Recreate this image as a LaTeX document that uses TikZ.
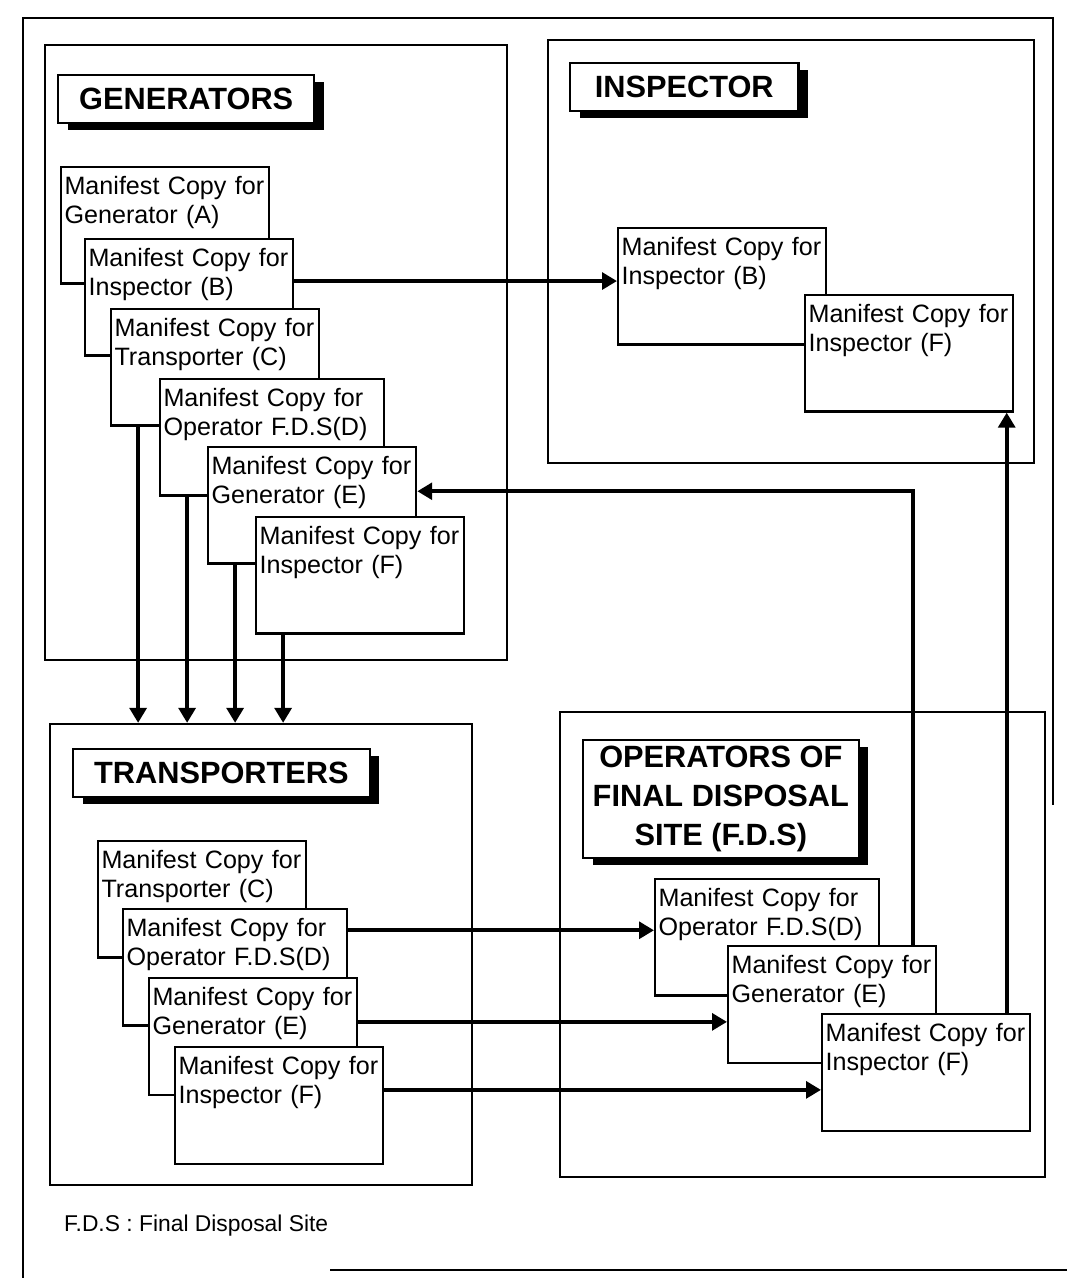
\documentclass[tikz,border=0pt]{standalone}
\usepackage{fontspec}
\setmainfont{Liberation Sans}
\usetikzlibrary{arrows.meta}
\usetikzlibrary{shadows}
\usetikzlibrary{fit}

\begin{document}
\begin{tikzpicture}[x=0.02cm, y=-0.02cm,
        panel/.style={draw, line width=1.3pt, inner sep=0pt},
        headbox/.style={draw, fill=white, line width=1.2pt, anchor=north west,
            font=\bfseries\fontsize{17.5}{22}\selectfont, inner xsep=12pt, minimum height=27.5pt,
            drop shadow={shadow xshift=5.5pt, shadow yshift=-4pt, fill=black, opacity=1}},
        card/.style={draw, fill=white, line width=1.2pt, anchor=north west, align=left,
            font=\fontsize{14.3}{16.5}\selectfont, inner xsep=2pt, inner ysep=2pt,
            text width=114.5pt, text height=13.5pt, text depth=48.8pt},
        wide/.style={card, text width=123.5pt},
        flow/.style={line width=2.3pt, -{Triangle[length=8.5pt, width=9.5pt]}}]

    \useasboundingbox (0,0) rectangle (1067,1278);

    % outer frame of the page
    \draw[line width=1.5pt] (23,1278) -- (23,18) -- (1053,18) -- (1053,805);
    \draw[line width=1.5pt] (330,1270) -- (1067,1270);

    % the four parties
    \node[panel, fit={(45,45) (507,660)}] (gen) {};
    \node[panel, fit={(548,40) (1034,463)}] (insp) {};
    \node[panel, fit={(50,724) (472,1185)}] (trans) {};
    \node[panel, fit={(560,712) (1045,1177)}] (fds) {};

    \node[headbox] (genT) at (57,74) {GENERATORS};
    \node[headbox, minimum width=130pt] (inspT) at (569,62) {INSPECTOR};
    \node[headbox] (transT) at (72,748) {TRANSPORTERS};
    \node[headbox, align=center, inner xsep=5.5pt, minimum height=67pt] (fdsT) at (582,739)
        {OPERATORS OF\\FINAL DISPOSAL\\SITE (F.D.S)};

    % copies kept by the generator
    \node[card] (gA) at (60,166) {Manifest Copy for\\Generator (A)};
    \node[card] (gB) at (84,238) {Manifest Copy for\\Inspector (B)};
    \node[card] (gC) at (110,308) {Manifest Copy for\\Transporter (C)};
    \node[wide] (gD) at (159,378) {Manifest Copy for\\Operator F.D.S(D)};
    \node[card] (gE) at (207,446) {Manifest Copy for\\Generator (E)};
    \node[card] (gF) at (255,516) {Manifest Copy for\\Inspector (F)};

    % inspector
    \node[card] (iB) at (617,227) {Manifest Copy for\\Inspector (B)};
    \node[card] (iF) at (804,294) {Manifest Copy for\\Inspector (F)};

    % transporter
    \node[card] (tC) at (97,840) {Manifest Copy for\\Transporter (C)};
    \node[wide] (tD) at (122,908) {Manifest Copy for\\Operator F.D.S(D)};
    \node[card] (tE) at (148,977) {Manifest Copy for\\Generator (E)};
    \node[card] (tF) at (174,1046) {Manifest Copy for\\Inspector (F)};

    % final disposal site
    \node[wide] (fD) at (654,878) {Manifest Copy for\\Operator F.D.S(D)};
    \node[card] (fE) at (727,945) {Manifest Copy for\\Generator (E)};
    \node[card] (fF) at (821,1013) {Manifest Copy for\\Inspector (F)};

    \node[anchor=west, font=\fontsize{13}{15}\selectfont] (note) at (58,1226) {F.D.S : Final Disposal Site};

    % copies handed on
    \coordinate (bIn) at ([yshift=3pt]iB.west);
    \draw[flow] (gB.east |- bIn) -- (bIn);
    \foreach \c in {gC,gD,gE,gF}
        \draw[flow] ([xshift=16pt]\c.south west) coordinate (down) -- (down |- trans.north);

    \coordinate (dIn) at ([yshift=4pt]fD.west);
    \coordinate (eIn) at ([yshift=-10pt]fE.west);
    \coordinate (fIn) at ([yshift=-10pt]fF.west);
    \draw[flow] (tD.east |- dIn) -- (dIn);
    \draw[flow] (tE.east |- eIn) -- (eIn);
    \draw[flow] (tF.east |- fIn) -- (fIn);

    % back to generator and inspector
    \coordinate (backE) at ([yshift=8pt]gE.east);
    \draw[flow] ([xshift=-14pt]fE.north east) |- (backE);
    \draw[flow] ([xshift=-14pt]fF.north east) coordinate (up) -- (up |- iF.south);
\end{tikzpicture}
\end{document}
